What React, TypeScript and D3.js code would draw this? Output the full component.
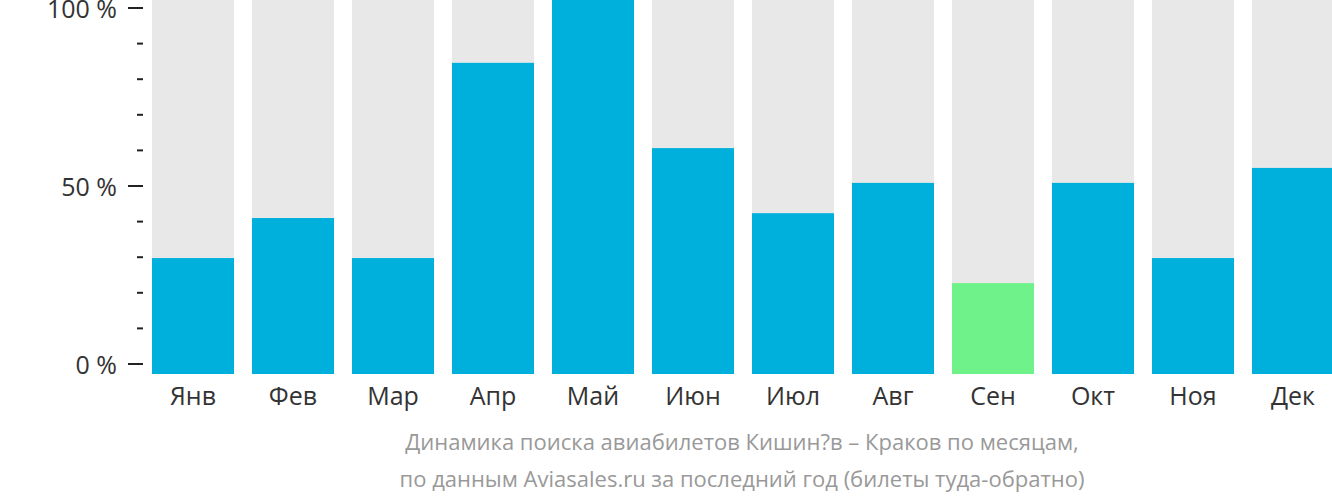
import React from "react";
import * as d3 from "d3";

const months = ["Янв", "Фев", "Мар", "Апр", "Май", "Июн", "Июл", "Авг", "Сен", "Окт", "Ноя", "Дек"];
const values = [31.0, 41.7, 31.0, 83.2, 100, 60.4, 43.0, 51.1, 24.3, 51.1, 31.0, 55.1];
const highlightIndex = 8;
const yTicks = [0, 10, 20, 30, 40, 50, 60, 70, 80, 90, 100];
const yLabelTicks = [0, 50, 100];
const caption = [
  "Динамика поиска авиабилетов Кишин?в – Краков по месяцам,",
  "по данным Aviasales.ru за последний год (билеты туда-обратно)",
];

const W = 1332;
const H = 502;
const FONT = "'Open Sans', 'Noto Sans', sans-serif";

export default function App() {
  const x = d3.scaleBand<string>().domain(months).range([143, 1343]).paddingInner(0.18).paddingOuter(0.09);
  const yBar = d3.scaleLinear().domain([0, 100]).range([374, 0]);
  const yAxis = d3.scaleLinear().domain([0, 100]).range([364, 8]);

  return (
    <svg width={W} height={H} style={{ position: "absolute", left: 0, top: 0 }}>
      <rect x={0} y={0} width={W} height={H} fill="#fff" />
      {months.map((m, i) => (
        <g key={m}>
          <rect x={x(m)} y={yBar(100)} width={x.bandwidth()} height={yBar(0) - yBar(100)} fill="#e8e8e8" />
          <rect
            x={x(m)}
            y={yBar(values[i])}
            width={x.bandwidth()}
            height={yBar(0) - yBar(values[i])}
            fill={i === highlightIndex ? "#6ef289" : "#00b0dc"}
          />
          <text
            x={(x(m) as number) + x.bandwidth() / 2}
            y={405}
            textAnchor="middle"
            fontFamily={FONT}
            fontSize={25}
            fill="#333"
          >
            {m}
          </text>
        </g>
      ))}
      {yTicks.map((t) => {
        const major = yLabelTicks.includes(t);
        return (
          <line
            key={t}
            x1={major ? 128 : 137}
            x2={143}
            y1={yAxis(t)}
            y2={yAxis(t)}
            stroke="#222"
            strokeWidth={2}
          />
        );
      })}
      {yLabelTicks.map((t) => (
        <text
          key={t}
          x={117}
          y={yAxis(t) + 10}
          textAnchor="end"
          fontFamily={FONT}
          fontSize={25}
          fill="#333"
        >
          {t} %
        </text>
      ))}
      {caption.map((c, i) => (
        <text
          key={i}
          x={742}
          y={450 + i * 37}
          textAnchor="middle"
          fontFamily={FONT}
          fontSize={22}
          fill="#999"
        >
          {c}
        </text>
      ))}
    </svg>
  );
}
